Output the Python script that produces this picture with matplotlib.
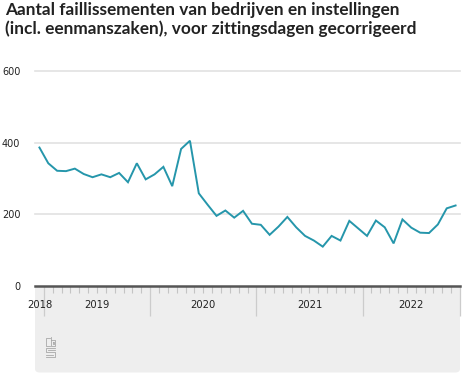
import matplotlib.pyplot as plt
from matplotlib.patches import FancyBboxPatch
from matplotlib.lines import Line2D
import pandas as pd

# Faillissementen per maand, dec 2018 t/m nov 2022
months = pd.period_range("2018-12", "2022-11", freq="M")
values = [387, 343, 322, 321, 328, 313, 304, 312, 304, 316, 290, 343,
          298, 312, 333, 279, 383, 406, 259, 227, 196, 211, 191, 210,
          174, 171, 143, 166, 193, 164, 140, 127, 110, 140, 127, 182,
          161, 140, 183, 164, 119, 186, 163, 149, 148, 172, 217, 225]
y_ticks = [0, 200, 400, 600]
title = ("Aantal faillissementen van bedrijven en instellingen\n"
         "(incl. eenmanszaken), voor zittingsdagen gecorrigeerd")

W, H = 468, 383
LINE = "#2596ab"
TXT = "#222222"

fig = plt.figure(figsize=(W / 100, H / 100), dpi=100)
fig.patch.set_facecolor("white")

def fx(px):
    return px / W

def fy(py):
    return 1 - py / H

ax = fig.add_axes([fx(35), fy(286), fx(460) - fx(35), fy(71.3) - fy(286)])
x = list(range(len(values)))
ax.plot(x, values, color=LINE, lw=1.4, solid_joinstyle="miter", zorder=3)

ax.set_xlim(-0.5, len(values) - 0.5)
ax.set_ylim(0, 600)
for s in ["top", "right", "left"]:
    ax.spines[s].set_visible(False)
ax.spines["bottom"].set_color("#555555")
ax.spines["bottom"].set_linewidth(1.8)
ax.spines["bottom"].set_zorder(4)

ax.set_yticks(y_ticks)
ax.set_yticklabels([str(v) for v in y_ticks], fontsize=7, color=TXT)
ax.tick_params(axis="y", length=0, pad=10.5)
for lab in ax.get_yticklabels():
    lab.set_horizontalalignment("right")
for v in y_ticks[1:]:
    ax.axhline(v, color="#e2e2e2", lw=1.2, zorder=1, clip_on=False)

# month and year ticks
years = [m.year for m in months]
bounds = [i - 0.5 for i in range(1, len(months)) if months[i].month == 1]
ax.set_xticks(bounds + [len(months) - 0.5])
ax.set_xticks([i - 0.5 for i in range(1, len(months))], minor=True)
ax.set_xticklabels([])
ax.tick_params(axis="x", which="major", length=21.5, width=0.9, color="#cccccc")
ax.tick_params(axis="x", which="minor", length=5, width=0.8, color="#c4c4c4")

for yr in sorted(set(years)):
    idx = [i for i, y in enumerate(years) if y == yr]
    ax.text((idx[0] + idx[-1]) / 2, -19 / 214.7 * 600, str(yr), ha="center",
            va="center", fontsize=7.2, color=TXT, clip_on=False)

# grey panel under the axis
panel = FancyBboxPatch((fx(35), fy(372.5)), fx(460) - fx(35), fy(280) - fy(372.5),
                       boxstyle="round,pad=0,rounding_size=0.01",
                       transform=fig.transFigure, facecolor="#eeeeee",
                       edgecolor="none", zorder=-1)
fig.patches.append(panel)

# cbs logo (rough sketch)
logo = [
    [(50, 338), (46, 338), (46, 346), (50, 346)],
    [(51, 337), (51, 346), (55, 346), (55, 340), (51, 340)],
    [(52.7, 342), (53.5, 342), (53.5, 344.2), (52.7, 344.2), (52.7, 342)],
    [(55, 348), (46, 348), (46, 352), (55, 352), (55, 357), (46, 357)],
    [(55, 350), (48, 350)], [(46, 354.5), (53, 354.5)],
]
for seg in logo:
    fig.add_artist(Line2D([fx(p[0]) for p in seg], [fy(p[1]) for p in seg],
                          color="#a8a8a8", lw=0.6, transform=fig.transFigure))

fig.text(fx(5), fy(2.5), title, ha="left", va="top", fontsize=12.4,
         fontweight="bold", color=TXT, family="Lato", linespacing=1.15)

fig.savefig("out.png", dpi=100)
